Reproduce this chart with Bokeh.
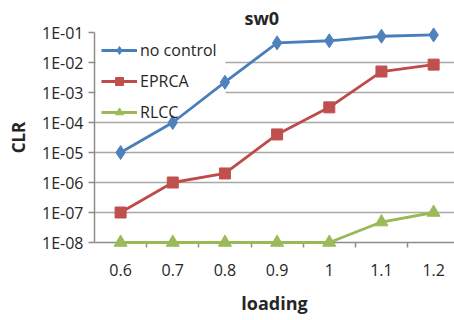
from bokeh.plotting import figure
from bokeh.models import Range1d, FixedTicker, Legend, LegendItem, BoxAnnotation
from bokeh.embed import file_html
from bokeh.resources import INLINE

loading = [0.6, 0.7, 0.8, 0.9, 1.0, 1.1, 1.2]
loading_labels = ["0.6", "0.7", "0.8", "0.9", "1", "1.1", "1.2"]
no_control = [1e-5, 1e-4, 2.2e-3, 4.5e-2, 5.3e-2, 7.5e-2, 8.3e-2]
eprca = [1e-7, 1e-6, 2e-6, 4e-5, 3.2e-4, 5e-3, 8.5e-3]
rlcc = [1e-8, 1e-8, 1e-8, 1e-8, 1e-8, 4.8e-8, 1e-7]
y_ticks = [1e-8, 1e-7, 1e-6, 1e-5, 1e-4, 1e-3, 1e-2, 1e-1]
y_tick_labels = ["1E-08", "1E-07", "1E-06", "1E-05", "1E-04", "1E-03", "1E-02", "1E-01"]

FONT = "Open Sans"
TXT = "#262626"

p = figure(width=454, height=320, output_backend="svg", toolbar_location=None,
           y_axis_type="log",
           x_range=Range1d(0.55, 1.24), y_range=Range1d(y_ticks[0], y_ticks[-1]),
           min_border_left=94, min_border_right=0, min_border_top=30, min_border_bottom=78)
p.outline_line_color = None
p.background_fill_color = "white"
p.border_fill_color = "white"

p.title.text = "sw0"
p.title.text_font = FONT
p.title.text_font_size = "18px"
p.title.text_font_style = "bold"
p.title.text_color = TXT
p.title.align = "left"
p.title.offset = 150
p.title.standoff = 6

# grid
p.xgrid.grid_line_color = None
p.ygrid.grid_line_color = "#a8a8a8"
p.ygrid.grid_line_width = 1.3

# y axis
ya = p.yaxis[0]
ya.ticker = FixedTicker(ticks=y_ticks)
ya.major_label_overrides = {v: s for v, s in zip(y_ticks, y_tick_labels)}
ya.axis_line_color = "#8c8c8c"
ya.axis_line_width = 1.5
ya.major_tick_line_color = "#8c8c8c"
ya.major_tick_line_width = 1.5
ya.major_tick_out = 6
ya.major_tick_in = 0
ya.minor_tick_line_color = None
ya.major_label_standoff = 5
ya.major_label_text_font = FONT
ya.major_label_text_font_size = "16px"
ya.major_label_text_color = TXT
ya.axis_label = "CLR"
ya.axis_label_text_font = FONT
ya.axis_label_text_font_size = "17px"
ya.axis_label_text_font_style = "bold"
ya.axis_label_text_color = TXT
ya.axis_label_standoff = 9

# x axis
bounds = [(a + b) / 2 for a, b in zip(loading[:-1], loading[1:])]
xa = p.xaxis[0]
xa.ticker = FixedTicker(ticks=loading, minor_ticks=bounds)
xa.major_label_overrides = {v: s for v, s in zip(loading, loading_labels)}
xa.axis_line_color = "#8c8c8c"
xa.axis_line_width = 1.5
xa.major_tick_line_color = None
xa.major_tick_out = 0
xa.major_tick_in = 0
xa.minor_tick_line_color = "#8c8c8c"
xa.minor_tick_line_width = 1.5
xa.minor_tick_out = 5
xa.minor_tick_in = 0
xa.major_label_standoff = 16
xa.major_label_text_font = FONT
xa.major_label_text_font_size = "16px"
xa.major_label_text_color = TXT
xa.axis_label = "loading"
xa.axis_label_text_font = FONT
xa.axis_label_text_font_size = "18px"
xa.axis_label_text_font_style = "bold"
xa.axis_label_text_color = TXT
xa.axis_label_standoff = 12

# white backdrop of the legend, under the series but over the grid
backdrop = BoxAnnotation(left=1, right=131, top=212, bottom=124,
                         left_units="screen", right_units="screen",
                         top_units="screen", bottom_units="screen",
                         fill_color="white", fill_alpha=1.0, line_color=None,
                         level="underlay")
p.add_layout(backdrop, "center")

series = [
    ("no control", no_control, "#4A7EBB", "#4F81BD", "diamond", 14),
    ("EPRCA", eprca, "#BE4B48", "#C0504D", "square", 11),
    ("RLCC", rlcc, "#98B954", "#9BBB59", "triangle", 13),
]
items = []
for name, ys, lc, mc, marker, size in series:
    l = p.line(loading, ys, line_color=lc, line_width=2.8, level="overlay")
    m = p.scatter(loading, ys, marker=marker, size=size, fill_color=mc, line_color=mc,
                  level="overlay")
    items.append(LegendItem(label=name, renderers=[l, m]))

legend = Legend(items=items, location="top_left", margin=7, padding=9,
                spacing=9, glyph_width=36, glyph_height=20, label_standoff=3,
                label_text_font=FONT, label_text_font_size="16px", label_text_color=TXT,
                border_line_color=None, background_fill_alpha=0.0)
p.add_layout(legend, "center")

open("out.html", "w").write(file_html(p, INLINE))
